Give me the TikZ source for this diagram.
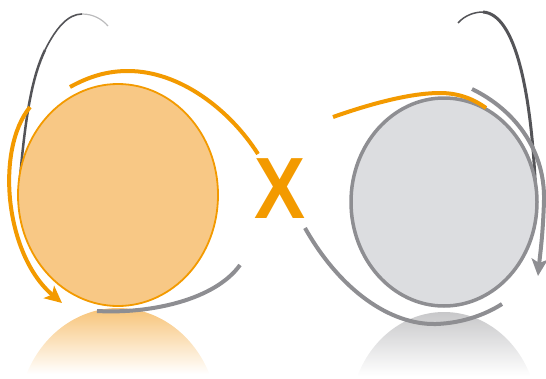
\documentclass[tikz,border=0pt]{standalone}
\usepackage{fontspec}
\newfontfamily\crossfont{Liberation Sans}
\usetikzlibrary{arrows.meta}
\definecolor{ballorange}{HTML}{F39A00}
\definecolor{ballfill}{HTML}{F8C885}
\definecolor{ballgray}{HTML}{8E8E92}
\definecolor{grayfill}{HTML}{DCDDE0}
\definecolor{darkline}{HTML}{545458}
\begin{document}
\begin{tikzpicture}[x=1pt, y=-1pt, line cap=butt,
	orangearc/.style={draw=ballorange, line width=4pt},
	grayarc/.style={draw=ballgray, line width=4pt},
	tip/.style={-{Stealth[length=17pt, width=16pt, inset=4pt]}}]
	\useasboundingbox (0,0) rectangle (546,378);
	% reflections
	\begin{scope}
		\clip (118,419) ellipse [x radius=100, y radius=111];
		\shade[top color=ballfill!90!ballorange, bottom color=white] (18,308) rectangle (218,374);
	\end{scope}
	\begin{scope}
		\clip (444,417) ellipse [x radius=94, y radius=105];
		\shade[top color=ballgray!50, bottom color=white] (350,311) rectangle (538,376);
	\end{scope}
	% thin dark strands
	\draw[darkline, line width=2.5pt] (20,178) .. controls (26,110) and (33,75) .. (45,50);
	\draw[darkline, line width=1.6pt] (45,50) .. controls (56,28) and (68,14) .. (82,14);
	\draw[darkline!40, line width=1.2pt] (82,14) .. controls (93,14) and (102,19) .. (108,26);
	\draw[darkline, line width=1.5pt] (458,23) .. controls (465,15) and (475,12) .. (483,12);
	\draw[darkline, line width=3pt] (483,12) .. controls (515,14) and (532,90) .. (536,200);
	% balls
	\draw[ballorange, fill=ballfill, line width=1.8pt] (118,195) ellipse [x radius=100, y radius=111];
	\draw[ballgray, fill=grayfill, line width=3.5pt] (444,202) ellipse [x radius=93, y radius=104];
	% arcs round the orange ball
	\draw[orangearc, tip] (30,107) .. controls (-5,150) and (5,255) .. (62,303);
	\draw[orangearc] (70,87) .. controls (90,76) and (108,71) .. (128,71) .. controls (180,71) and (230,110) .. (258,154);
	\draw[grayarc] (97,311) .. controls (150,314) and (215,300) .. (240,265);
	% cross
	\node[inner sep=0pt, text=ballorange, font=\crossfont\bfseries\fontsize{87}{87}\selectfont, xscale=0.88] (cross) at (280,189) {X};
	% arcs round the gray ball
	\draw[grayarc] (305,228) .. controls (340,290) and (390,325) .. (436,324) .. controls (465,323) and (488,313) .. (502,304);
	\draw[orangearc] (333,117) .. controls (370,104) and (410,93) .. (440,93) .. controls (460,93) and (475,100) .. (486,108);
	\draw[grayarc, tip] (472,89) .. controls (515,110) and (545,150) .. (544,200) .. controls (543,235) and (540,255) .. (538,276);
\end{tikzpicture}
\end{document}
